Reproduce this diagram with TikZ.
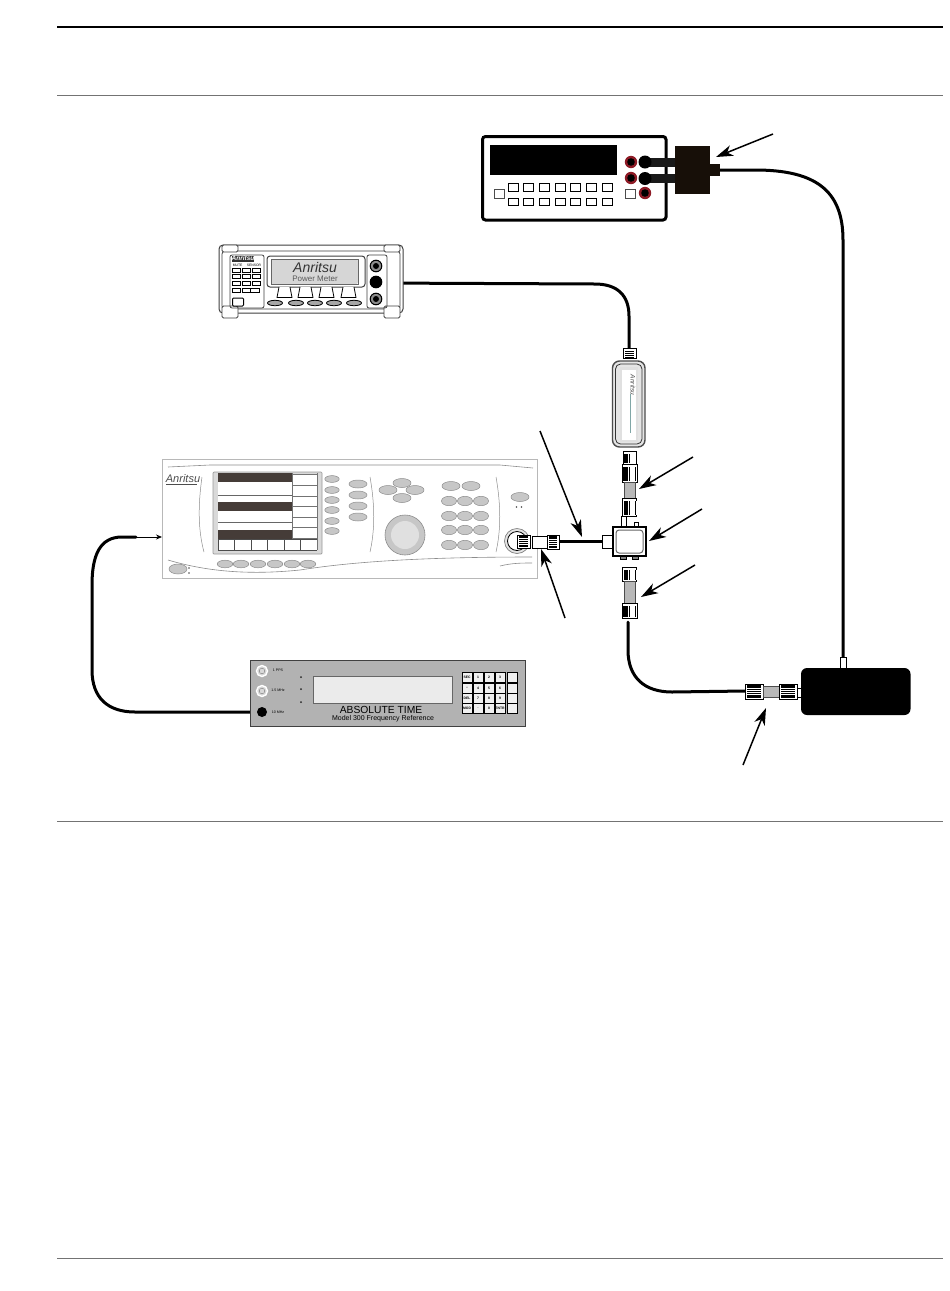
\documentclass[tikz,border=0pt]{standalone}
\usepackage{fontspec}
\setmainfont{Liberation Sans}
\usetikzlibrary{arrows.meta}
\definecolor{panelline}{gray}{0.72}
\definecolor{keygray}{gray}{0.78}
\definecolor{keyedge}{gray}{0.55}
\definecolor{darkbar}{HTML}{453C38}
\definecolor{refgray}{gray}{0.70}
\definecolor{jackred}{HTML}{8E1B26}
\definecolor{tubegray}{gray}{0.72}
\tikzset{
  rulegray/.style={draw=black!55,line width=0.8pt},
  cable/.style={draw=black,line width=3pt,line cap=round,rounded corners=0pt},
  pointer/.style={draw=black,line width=1.5pt,-{Stealth[length=17pt,width=11pt,inset=5pt]}},
  oval/.style={fill=keygray,draw=keyedge,line width=0.5pt},
  softcell/.style={draw=keyedge,line width=1pt,fill=white},
  conn/.style={draw=black,line width=0.9pt,fill=white},
  tube/.style={draw=black!70,line width=0.6pt,fill=tubegray},
  keypadcell/.style={draw=black,line width=0.9pt,fill=black!6,minimum width=10pt,minimum height=10pt,inner sep=0pt,font=\fontsize{3.4}{4}\selectfont\bfseries},
  smallkey/.style={draw=black,line width=0.9pt,fill=white},
}
% vertical connector body: centre x, top y, bottom y, half width
\newcommand{\vconn}[4]{%
  \draw[conn] (#1-#4,#2) rectangle (#1+#4,#3);
  \fill[black] (#1-#4+1,#2+2.5) rectangle (#1+#4-1,#3-1.5);
  \foreach \k in {-0.6,0.6,...,#4}{\draw[white,line width=0.5pt] (#1+\k-0.3,#2+2.5) -- (#1+\k-0.3,#3-1.5);}
}
% horizontal connector body: left x, right x, centre y, half height
\newcommand{\hconn}[4]{%
  \draw[conn] (#1,#3-#4) rectangle (#2,#3+#4);
  \fill[black] (#1+2,#3-#4+1) rectangle (#2-2,#3+#4-1);
  \foreach \k in {-3,-1,...,3}{\draw[white,line width=0.5pt] (#1+2,#3+\k) -- (#2-2,#3+\k);}
}
\begin{document}
\begin{tikzpicture}[x=1pt,y=-1pt]
\useasboundingbox (0,0) rectangle (950,1291);
\fill[white] (0,0) rectangle (950,1291);
% page rules
\draw[black,line width=1.6pt] (57,27) -- (943,27);
\draw[rulegray] (57,95.5) -- (943,95.5);
\draw[rulegray] (57,821.5) -- (943,821.5);
\draw[rulegray] (57,1258) -- (943,1258);

% ---------- cables (under devices)
\coordinate (dmmplug) at (719,170);
\coordinate (batttop) at (843,658);
\draw[cable] (dmmplug) -- (755,170) .. controls (815,170) and (843,190) .. (843,240) -- (batttop);
\coordinate (pmport) at (376,283);
\coordinate (sensortop) at (629,349);
\draw[cable] (pmport) -- (595,284) .. controls (618,284) and (629,296) .. (629,316) -- (sensortop);
\coordinate (splitbot) at (628,622);
\coordinate (adapterleft) at (745,691);
\draw[cable] (splitbot) -- (628,650) .. controls (628,678) and (645,692) .. (672,692) -- (adapterleft);
\coordinate (refout) at (262,712);
\coordinate (genthick) at (136,537);
\coordinate (genin) at (162,537);
\draw[cable] (refout) -- (135,712) .. controls (108,712) and (92,698) .. (92,670) -- (92,585) .. controls (92,555) and (100,537) .. (122,537) -- (genthick);
\draw[draw=black,line width=0.8pt,-{Stealth[length=6pt,width=5pt]}] (genthick) -- (genin);
\coordinate (genconn) at (559,541);
\coordinate (splitleft) at (603,541);
\draw[cable,line cap=butt] (genconn) -- (splitleft);

% ---------- multimeter
\draw[black,line width=3pt,rounded corners=3pt,fill=white] (482.5,136.5) rectangle (666,220);
\fill[black] (490,145) rectangle (617,175);
\foreach \x in {508,523,539,555,570,586,602}{
  \draw[smallkey] (\x,183.5) rectangle (\x+10,191);
  \draw[smallkey] (\x,198.5) rectangle (\x+10,205.5);
}
\draw[smallkey,draw=black!70] (494.5,189) rectangle (504,198);
\draw[smallkey,draw=black!70] (625.5,189.5) rectangle (635,198);
\foreach \p in {(631,162),(631,178),(645,193)}{
  \fill[jackred] \p circle (6.2);
  \fill[black] \p circle (3.8);
}
\fill[black!90] (643,158) rectangle (680,166.5);
\fill[black!90] (643,174) rectangle (680,182.5);
\fill[black] (645,162) circle (6.5);
\fill[black] (645,178.5) circle (6.5);
\fill[black!88!brown] (675,146) rectangle (710,194);
\fill[black!88!brown] (705,164) rectangle (720,176);
\draw[pointer] (773,134) -- (716,157);

% ---------- power meter
\draw[black!75,line width=1pt,rounded corners=4pt,fill=white] (219,245) rectangle (403,313);
\draw[black!75,line width=0.8pt,rounded corners=3pt] (222,251) rectangle (400,309);
\foreach \x/\w in {222/16,384/16}{
  \draw[black!75,line width=0.8pt,fill=white,rounded corners=1.5pt] (\x,306) rectangle (\x+\w,318);
  \draw[black!75,line width=0.8pt,fill=white,rounded corners=1.5pt] (\x,245) rectangle (\x+\w,252);
}
\draw[black!75,line width=0.8pt,rounded corners=2pt] (230,255) rectangle (264,308);
\node[font=\fontsize{6.5}{7}\selectfont\bfseries\itshape,inner sep=0pt,fill=black!80,text=white,minimum width=22pt,minimum height=6pt] (pmlogo) at (243,258.5) {Anritsu};
\node[font=\fontsize{3.4}{4}\selectfont,inner sep=0pt] (pmkeys) at (247,265) {MUTE \quad SENSOR};
\foreach \y in {270,276,283}{\foreach \x in {236,246,256}{\draw[black,line width=0.8pt,fill=white] (\x-4,\y-2) rectangle (\x+4,\y+2);}}
\foreach \x in {236,246}{\draw[black,line width=0.8pt,fill=white] (\x-4,288) rectangle (\x+4,292);}
\draw[black,line width=0.8pt,fill=white] (250,288) rectangle (259,292);
\draw[black,line width=1pt,rounded corners=1pt,fill=white] (232.5,298) rectangle (243.5,306);
\draw[black!75,line width=1pt,rounded corners=3pt,fill=white] (267,256) rectangle (365,287);
\fill[black!16,rounded corners=2pt] (271,259) rectangle (358,284);
\draw[black!60,line width=0.6pt] (271,259) rectangle (358,284);
\node[font=\fontsize{14}{14}\selectfont\itshape,inner sep=0pt,text=black!80] (pmbrand) at (315,267.5) {Anritsu};
\node[font=\fontsize{8}{8}\selectfont,inner sep=0pt,text=black!65] (pmname) at (315,279) {Power Meter};
\foreach \x in {277,298,319,341}{
  \draw[black,line width=0.8pt,fill=white] (\x+2,287) -- (\x,297.5) -- (\x+15,297.5) -- (\x+13,287);
}
\foreach \x in {275,296,315,334,354}{\draw[black,line width=0.8pt,fill=black!35] (\x,303) ellipse (7.5 and 2.7);}
\draw[black!75,line width=0.8pt,rounded corners=2pt] (367,255) rectangle (387,308);
\foreach \y in {266,282,299}{
  \draw[black,fill=black!45,line width=1pt] (376,\y) circle (5.8);
  \fill[black] (376,\y) circle (3);
}
\fill[black] (376,282) circle (5.8);

% ---------- signal generator
\draw[panelline,line width=0.9pt,fill=white] (162,459) rectangle (537,578);
\draw[black!45,line width=0.6pt] (168,467) -- (210,465) -- (500,465) -- (533,468);
\draw[black!45,line width=0.6pt] (168,560) .. controls (215,574) and (260,574) .. (300,570) .. controls (350,562) and (420,557) .. (532,557);
\draw[black!45,line width=0.6pt] (500,566) .. controls (512,563) and (522,563) .. (532,563);
\draw[black!45,line width=0.5pt] (202,477) .. controls (198,505) and (198,530) .. (204,552);
\draw[black!45,line width=0.5pt] (370,477) .. controls (375,505) and (375,530) .. (370,552);
\draw[black!45,line width=0.5pt] (496,477) .. controls (501,505) and (501,530) .. (496,552);
\node[font=\fontsize{11}{11}\selectfont\itshape,inner sep=0pt,text=black!70] (genlogo) at (183,479) {Anritsu};
\draw[black!70,line width=1pt] (166,484.5) -- (197,484.5);
\draw[black!40,fill=black!15,line width=0.7pt,rounded corners=1pt] (213,472) rectangle (322,554);
\fill[white] (218,474) rectangle (317,550);
\foreach \y in {473,502,530}{\fill[darkbar] (218,\y) rectangle (292,\y+9);}
\draw[black!60,line width=0.9pt] (218,495.5) -- (292,495.5) (218,522.5) -- (292,522.5);
\foreach \y in {474,485,496,506,517,527,538}{\draw[black!55,line width=0.9pt] (292,\y) -- (317,\y);}
\draw[black!55,line width=0.9pt] (292,473) -- (292,539) (317,473) -- (317,550);
\draw[black!70,line width=0.9pt] (218,539.5) -- (317,539.5) (218,550) -- (317,550);
\foreach \x in {218,234,251,267,284,300}{\draw[black!70,line width=0.9pt] (\x,539.5) -- (\x,550);}
\foreach \y in {479,490,500,510,521,531}{\draw[oval] (332,\y) ellipse (7.2 and 3.4);}
\foreach \y in {484,495,506,517}{\draw[oval] (358,\y) ellipse (9 and 4);}
\foreach \p in {(402,483),(388,490),(415,490),(402,498)}{\draw[oval] \p ellipse (9 and 4.5);}
\draw[keyedge,line width=0.6pt,fill=keygray] (405,535) circle (20);
\fill[black!12] (405,535) circle (14);
\foreach \x in {451,471}{\draw[oval] (\x,486) ellipse (9 and 4.5);}
\foreach \y in {501,516,530,545}{\foreach \x in {449,465,481}{\draw[oval] (\x,\y) ellipse (7.5 and 4.7);}}
\draw[oval] (520,497) ellipse (9 and 4.5);
\fill[black!70] (516.5,507) circle (0.9) (521.5,507) circle (0.9);
\foreach \x in {225,241,258,275,292,308}{\draw[oval] (\x,564) ellipse (7.8 and 3.8);}
\draw[oval] (178,569) ellipse (9 and 5);
\fill[black!70] (189,568) circle (0.9) (189,573) circle (0.9);
% generator output and adapter
\draw[black!50,line width=0.7pt,fill=black!10] (517,541) circle (12.5);
\draw[black,line width=0.8pt,fill=white] (517,541) circle (9.5);
\draw[conn] (532,536) rectangle (547,548);
\hconn{517}{530}{541.5}{6.5}
\hconn{547}{559}{542}{7}

% ---------- sensor
\hconn{623}{636}{353.5}{5}
\draw[black!70,line width=1.4pt,fill=black!10,rounded corners=7pt] (612.5,361) rectangle (645,447);
\draw[black!80,line width=0.8pt,rounded corners=5pt] (615.5,364) rectangle (642,444);
\fill[white] (620,367) rectangle (638,442);
\fill[black!12] (620,367) -- (620,442) -- (638,442) -- (638,367) -- cycle;
\fill[white] (622,370) rectangle (636,440);
\node[font=\fontsize{6.5}{7}\selectfont\itshape,rotate=-90,inner sep=0pt,text=black!70] (senslogo) at (633,385) {Anritsu};
\draw[teal!60!black!50,line width=0.7pt] (630,394) -- (630,433);
\vconn{629.5}{451}{464}{6.5}
% upper adapter
\vconn{629.5}{464}{482}{7.5}
\draw[tube] (624,482) rectangle (635,498);
\vconn{629.5}{498}{516}{7}
\draw[conn] (621,516) rectangle (626,527) (634,522) rectangle (638,527);
% lower adapter
\draw[black,line width=0.8pt,fill=black!50] (620,556) rectangle (626,559) (632,556) rectangle (638,559);
\vconn{629.5}{567}{581}{7}
\draw[tube] (624,581) rectangle (635,603);
\vconn{629.5}{603}{618}{7.5}
% splitter
\draw[conn] (602.5,535) rectangle (613,548);
\draw[black,line width=1.1pt,fill=white] (613,527) rectangle (646,556);
\draw[black!60,line width=1pt,rounded corners=3pt,fill=white] (616,530) rectangle (643,553);

% ---------- frequency reference
\draw[black!75,line width=1pt,fill=refgray] (250,660) rectangle (525,726);
\draw[black!60,line width=0.6pt,fill=black!8] (313,676) rectangle (452,703);
\foreach \y in {671,691}{
  \draw[white,line width=1.4pt,fill=black!15] (262,\y) circle (5.5);
  \draw[black!45,line width=0.5pt] (262,\y) circle (2.8);
}
\fill[black] (262,712) circle (5);
\node[font=\fontsize{3.6}{4}\selectfont,inner sep=0pt] (ppslab) at (278,670.5) {1 PPS};
\node[font=\fontsize{3.6}{4}\selectfont,inner sep=0pt] (mhz15lab) at (278,690.5) {1.5 MHz};
\node[font=\fontsize{3.6}{4}\selectfont,inner sep=0pt] (mhz10lab) at (278,712.5) {10 MHz};
\fill[black!85] (301,677) circle (1) (301,689) circle (1) (301,702) circle (1);
\node[font=\fontsize{10.3}{11}\selectfont,inner sep=0pt] (abstime) at (381,709.5) {ABSOLUTE TIME};
\node[font=\fontsize{7}{8}\selectfont,inner sep=0pt] (model) at (383,719) {Model 300 Frequency Reference};
\node[keypadcell] (k11) at (467,677) {SEC};
\node[keypadcell] (k12) at (478,677) {1};
\node[keypadcell] (k13) at (489,677) {2};
\node[keypadcell] (k14) at (500,677) {3};
\node[keypadcell] (k15) at (512,677) {};
\node[keypadcell] (k21) at (467,688) {--};
\node[keypadcell] (k22) at (478,688) {4};
\node[keypadcell] (k23) at (489,688) {5};
\node[keypadcell] (k24) at (500,688) {6};
\node[keypadcell] (k25) at (512,688) {};
\node[keypadcell] (k31) at (467,698) {DEL};
\node[keypadcell] (k32) at (478,698) {7};
\node[keypadcell] (k33) at (489,698) {8};
\node[keypadcell] (k34) at (500,698) {9};
\node[keypadcell] (k35) at (512,698) {};
\node[keypadcell] (k41) at (467,708) {MOD};
\node[keypadcell] (k42) at (478,708) {.};
\node[keypadcell] (k43) at (489,708) {0};
\node[keypadcell] (k44) at (500,708) {ENTR};
\node[keypadcell] (k45) at (512,708) {};

% ---------- battery box and adapter
\fill[black,rounded corners=6pt] (801,668) rectangle (910.5,715);
\draw[black,line width=1pt,fill=white] (840.5,657.5) rectangle (846.5,668);
\draw[conn] (796,688) rectangle (801,697);
\hconn{745}{763}{691.5}{7.5}
\draw[tube] (763,686) rectangle (779,697);
\hconn{779}{797}{691.5}{7.5}

% ---------- pointers
\draw[pointer] (540,431) -- (582,537);
\draw[pointer] (565,618) -- (541,549);
\draw[pointer] (693,457) -- (639,489);
\draw[pointer] (702,509) -- (649,541);
\draw[pointer] (695,565) -- (641,597);
\draw[pointer] (743,765) -- (766,708);
\end{tikzpicture}
\end{document}
